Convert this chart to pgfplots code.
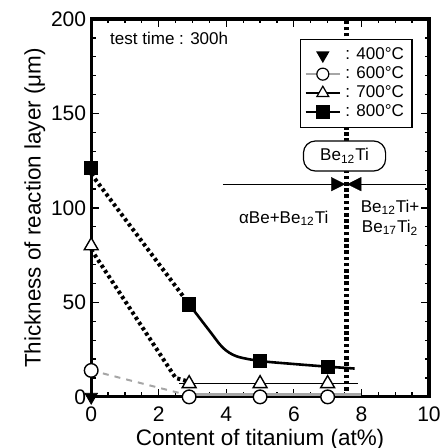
\documentclass[border=0pt]{standalone}
\usepackage{fontspec}
\setmainfont{Liberation Sans}
\usepackage{pgfplots}
\pgfplotsset{compat=1.18}
\usetikzlibrary{arrows.meta}

\begin{document}
\begin{tikzpicture}
\begin{axis}[
    width=168.5pt, height=188.5pt, scale only axis,
    xmin=0, xmax=10, ymin=0, ymax=200,
    xtick={0,2,...,10}, ytick={0,50,...,200},
    minor x tick num=3, minor y tick num=4,
    tick align=inside, tick pos=both,
    major tick length=4pt, minor tick length=2.2pt,
    every tick/.style={black, line width=0.6pt},
    axis line style={line width=1.6pt},
    tick label style={font=\fontsize{10.5}{12}\selectfont},
    yticklabel style={xshift=1pt},
    xticklabel style={yshift=-1.5pt},
    /pgf/number format/assume math mode=true,
    xlabel={Content of titanium (at\%)},
    ylabel={Thickness of reaction layer (μm)},
    label style={font=\fontsize{11.2}{13}\selectfont},
    xlabel style={yshift=3pt},
    ylabel style={yshift=-4pt},
    clip=false,
    legend style={at={(rel axis cs:0.617,0.947)}, anchor=north west,
        draw=black, line width=0.7pt, font=\fontsize{8.5}{10}\selectfont,
        row sep=-2pt, inner sep=2pt},
    legend cell align=left,
]
% phase boundary
\addplot[black, line width=2.3pt, dash pattern=on 1.8pt off 1.3pt, forget plot]
    coordinates {(7.55,0) (7.55,200)};
\addplot[black, line width=0.6pt, forget plot] coordinates {(3.9,112.6) (9.9,112.6)};
\addplot[black, line width=0.1pt, -{Triangle[length=7pt,width=7pt]}, forget plot]
    coordinates {(7.0,112.6) (7.52,112.6)};
\addplot[black, line width=0.1pt, -{Triangle[length=7pt,width=7pt]}, forget plot]
    coordinates {(8.1,112.6) (7.58,112.6)};

% 600 C
\addplot[gray!70, line width=1pt, dashed, forget plot] coordinates {(0,14) (2.8,1.2)};
\addplot[gray!70, line width=1.2pt, forget plot] coordinates {(2.8,1.2) (8.0,1.2)};
% 700 C
\addplot[black, line width=2pt, dash pattern=on 1.6pt off 1.5pt, forget plot]
    coordinates {(0,78) (2.5,10) (2.9,8)};
\addplot[black, line width=0.8pt, forget plot] coordinates {(2.6,7) (7.9,7)};
% 800 C
\addplot[black, line width=2pt, dash pattern=on 1.6pt off 1.5pt, forget plot]
    coordinates {(0,118) (2.9,49)};
\addplot[black, line width=1.3pt, smooth, tension=0.5, forget plot]
    coordinates {(2.9,49) (3.5,35) (3.9,26) (4.3,21.5) (5,19) (6,17.4) (7,16) (7.8,15)};

% marks
\addplot[only marks, mark=triangle*, mark options={rotate=180, fill=black}, mark size=3.6pt, forget plot]
    coordinates {(0,0)};
\addplot[only marks, mark=*, mark options={fill=white, draw=black, line width=0.7pt}, mark size=3.4pt, forget plot]
    coordinates {(0,14) (2.9,0) (5,0) (7,0)};
\addplot[only marks, mark=triangle*, mark options={fill=white, draw=black, line width=0.7pt}, mark size=4pt, forget plot]
    coordinates {(0,80) (2.9,7) (5,7) (7,7)};
\addplot[only marks, mark=square*, mark options={fill=black}, mark size=3.3pt, forget plot]
    coordinates {(0,121) (2.9,49) (5,19) (7,16)};

% legend
\addlegendimage{only marks, mark=triangle*, mark options={rotate=180, fill=black}, mark size=3.2pt}
\addlegendentry{: 400°C}
\addlegendimage{gray!70, line width=1.2pt, mark=*, mark options={fill=white, draw=black, line width=0.6pt}, mark size=3pt}
\addlegendentry{: 600°C}
\addlegendimage{black, line width=0.7pt, mark=triangle*, mark options={fill=white, draw=black, line width=0.6pt}, mark size=3.4pt}
\addlegendentry{: 700°C}
\addlegendimage{black, line width=1.4pt, mark=square*, mark options={fill=black}, mark size=2.8pt}
\addlegendentry{: 800°C}

% annotations
\node[anchor=west, font=\fontsize{8.5}{10}\selectfont] at (axis cs:0.35,190) {test time : 300h};
\node[draw=black, fill=white, line width=0.6pt, rounded corners=6pt, minimum width=41pt, minimum height=15pt,
      font=\fontsize{8.5}{10}\selectfont] at (axis cs:7.5,127.5) {Be\textsubscript{12}Ti};
\node[fill=white, inner sep=1pt, font=\fontsize{8.5}{10}\selectfont] at (axis cs:5.7,94.5) {αBe+Be\textsubscript{12}Ti};
\node[fill=white, inner sep=1pt, align=center, font=\fontsize{8.5}{10}\selectfont] at (axis cs:8.85,95)
    {Be\textsubscript{12}Ti+\\Be\textsubscript{17}Ti\textsubscript{2}};
\end{axis}
\pgfresetboundingbox
\path ([shift={(-45.5pt,-25.5pt)}]current axis.south west) rectangle ([shift={(9pt,9.5pt)}]current axis.north east);
\end{tikzpicture}
\end{document}
